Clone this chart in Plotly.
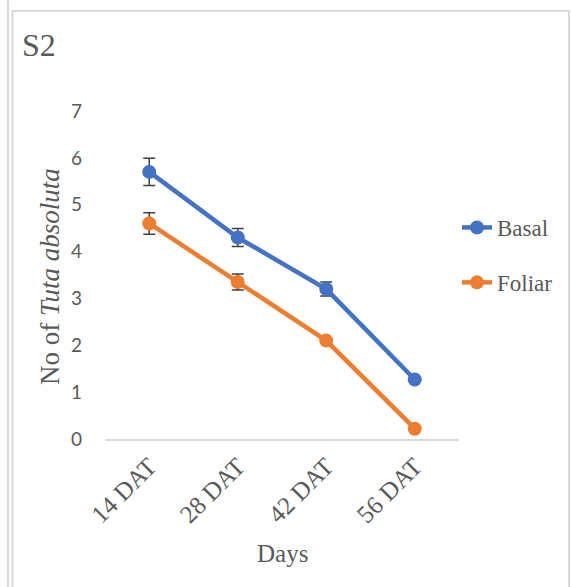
import plotly.graph_objects as go

categories = ["14 DAT", "28 DAT", "42 DAT", "56 DAT"]
basal = [5.7, 4.3, 3.2, 1.27]
foliar = [4.6, 3.35, 2.1, 0.22]
basal_err = [0.29, 0.19, 0.15, 0.0]
foliar_err = [0.23, 0.17, 0.0, 0.0]
y_ticks = [0, 1, 2, 3, 4, 5, 6, 7]

W, H = 571, 587
L, R, T, B = 105, 112, 111, 148
pw, ph = W - L - R, H - T - B

def px(x):
    return (x - L) / pw

def py(y):
    return (H - B - y) / ph

serif = "Liberation Serif, Times New Roman, serif"
gray = "#595959"

fig = go.Figure()
fig.add_trace(go.Scatter(
    x=categories, y=basal, name="Basal", mode="lines+markers",
    line=dict(color="#4472C4", width=4.5),
    marker=dict(size=14, color="#4472C4"),
    error_y=dict(type="data", array=basal_err, color="#404040", thickness=1.5, width=6),
    legendgroup="a",
))
fig.add_trace(go.Scatter(
    x=categories, y=foliar, name="Foliar", mode="lines+markers",
    line=dict(color="#ED7D31", width=4.5),
    marker=dict(size=14, color="#ED7D31"),
    error_y=dict(type="data", array=foliar_err, color="#404040", thickness=1.5, width=6),
    legendgroup="b",
))

fig.update_layout(
    width=W, height=H,
    margin=dict(l=L, r=R, t=T, b=B, autoexpand=False),
    paper_bgcolor="white", plot_bgcolor="white",
    showlegend=True,
    legend=dict(
        x=px(457), y=py(206), xanchor="left", yanchor="top",
        font=dict(family=serif, size=23, color=gray),
        traceorder="grouped", tracegroupgap=22,
        bgcolor="rgba(0,0,0,0)",
    ),
    xaxis=dict(
        type="category", range=[-0.5, 3.5], autorange=False,
        showgrid=False, zeroline=False,
        showline=True, linecolor="#d9d9d9", linewidth=1.5,
        ticks="", tickangle=-45, ticklabelstandoff=1,
        tickfont=dict(family=serif, size=25, color=gray),
    ),
    yaxis=dict(
        range=[0, 7], autorange=False, showgrid=False, zeroline=False,
        showline=False, ticks="", tickvals=y_ticks,
        ticklabelstandoff=22,
        tickfont=dict(family="Lato", size=19, color=gray),
    ),
    annotations=[
        dict(text="S2", x=px(20), y=py(25), xref="paper", yref="paper",
             xanchor="left", yanchor="top", showarrow=False,
             font=dict(family=serif, size=32, color=gray)),
        dict(text="No of <i>Tuta absoluta</i>", x=px(50), y=py(276),
             xref="paper", yref="paper", xanchor="center", yanchor="middle",
             textangle=-90, showarrow=False,
             font=dict(family=serif, size=27, color=gray)),
        dict(text="Days", x=px(282), y=py(553), xref="paper", yref="paper",
             xanchor="center", yanchor="middle", showarrow=False,
             font=dict(family=serif, size=25, color=gray)),
    ],
    shapes=[
        dict(type="line", xref="paper", yref="paper",
             x0=px(8), x1=px(8), y0=py(0), y1=py(600),
             line=dict(color="#d9d9d9", width=2)),
        dict(type="rect", xref="paper", yref="paper",
             x0=px(12.5), x1=px(569), y0=py(11), y1=py(600),
             line=dict(color="#d9d9d9", width=2), fillcolor="rgba(0,0,0,0)"),
    ],
)

fig.write_html("out.html", config={"displayModeBar": False},
               post_script="document.body.style.margin='0px';")
